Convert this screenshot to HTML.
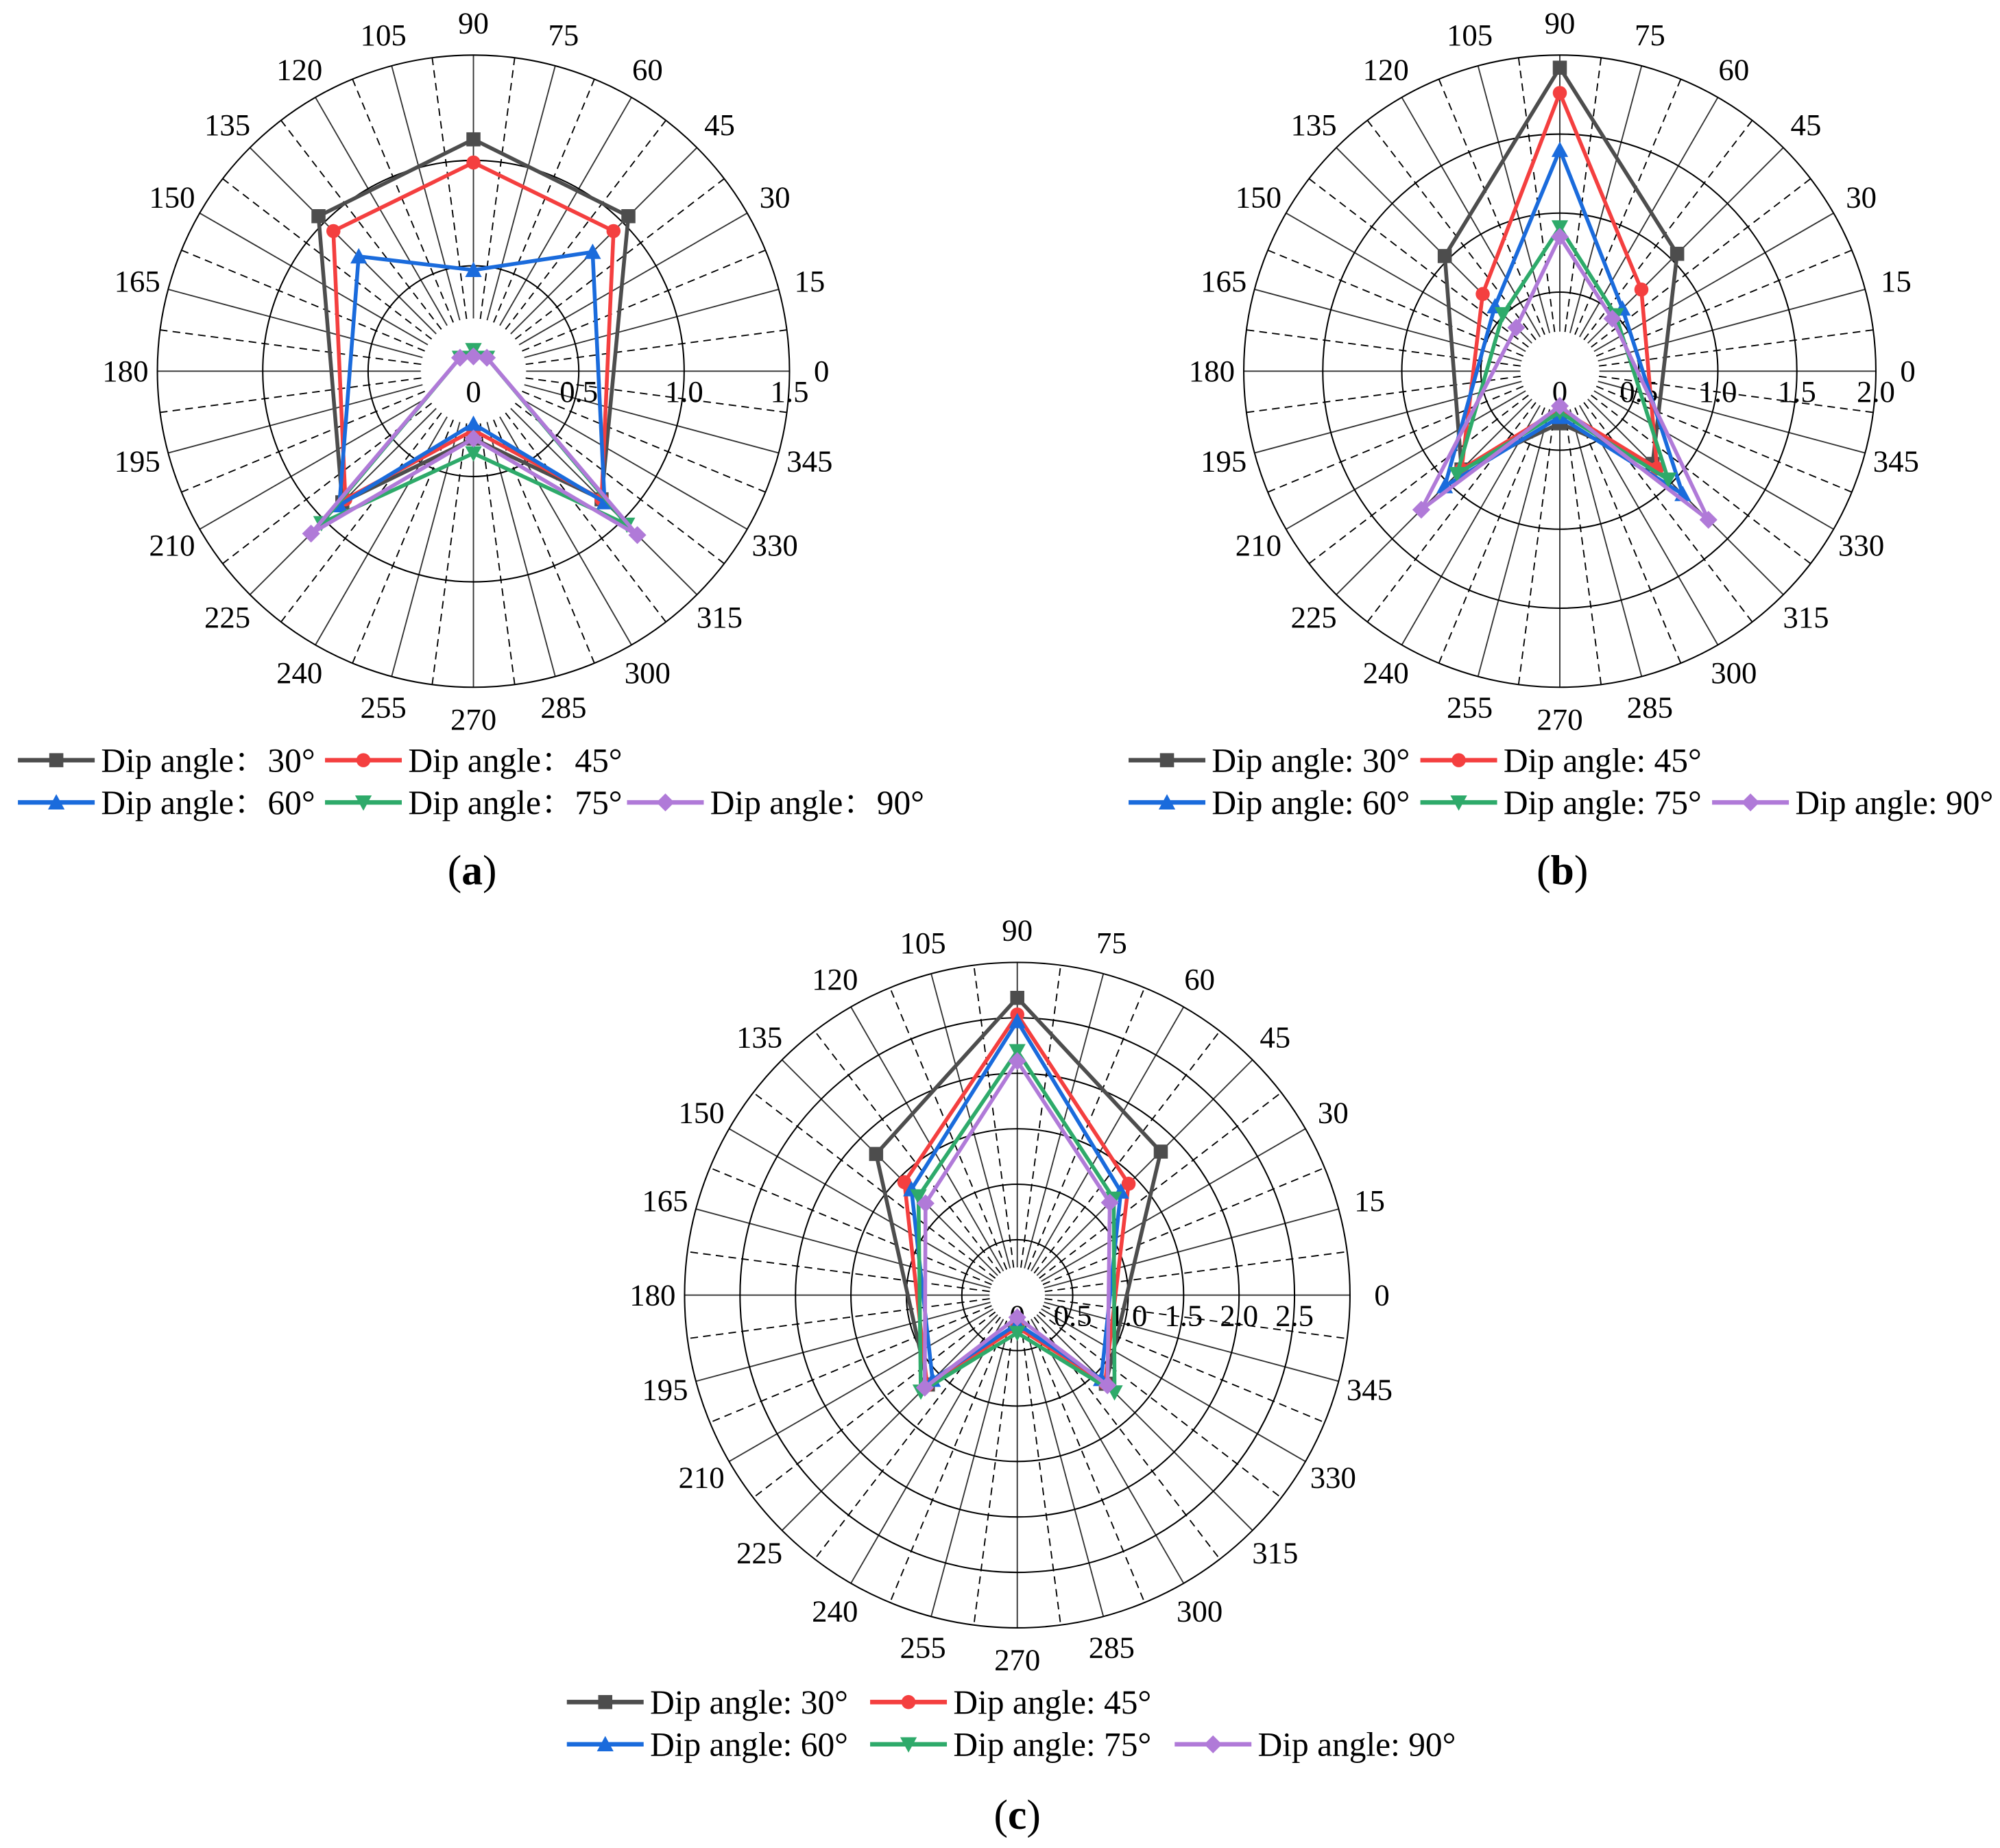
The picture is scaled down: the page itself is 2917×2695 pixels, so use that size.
<!DOCTYPE html>
<html><head><meta charset="utf-8"><style>
html,body{margin:0;padding:0;background:#fff}
svg{display:block}
text{font-family:"Liberation Serif","Noto Serif CJK SC",serif;fill:#000}
</style></head><body>
<svg id="fig" width="2917" height="2695" viewBox="0 0 1563 1444" xmlns="http://www.w3.org/2000/svg">
<rect width="1563" height="1444" fill="#fff"/>
<text x="369" y="691" font-size="33" text-anchor="middle">(<tspan font-weight="bold">a</tspan>)</text>
<text x="1221" y="691" font-size="33" text-anchor="middle">(<tspan font-weight="bold">b</tspan>)</text>
<text x="795" y="1429" font-size="33" text-anchor="middle">(<tspan font-weight="bold">c</tspan>)</text>
</svg>
<script>
const angles = [45, 90, 135, 225, 270, 315];
const seriesNames = ["Dip angle: 30°","Dip angle: 45°","Dip angle: 60°","Dip angle: 75°","Dip angle: 90°"];
const seriesNamesA = ["Dip angle：30°","Dip angle：45°","Dip angle：60°","Dip angle：75°","Dip angle：90°"];
// chart a values per series (angles order)
const a30 = [1.04, 1.10, 1.04, 0.88, 0.32, 0.86];
const a45 = [0.94, 0.99, 0.94, 0.86, 0.28, 0.86];
const a60 = [0.80, 0.48, 0.77, 0.90, 0.25, 0.88];
const a75 = [0.09, 0.10, 0.09, 1.02, 0.39, 1.03];
const a90 = [0.09, 0.07, 0.09, 1.09, 0.32, 1.10];
// chart b
const b30 = [1.05, 1.92, 1.03, 0.88, 0.33, 0.83];
const b45 = [0.73, 1.76, 0.69, 0.88, 0.24, 0.87];
const b60 = [0.56, 1.40, 0.58, 1.03, 0.29, 1.10];
const b75 = [0.50, 0.91, 0.51, 0.92, 0.26, 0.97];
const b90 = [0.47, 0.85, 0.39, 1.24, 0.22, 1.33];
// chart c
const c30 = [1.83, 2.68, 1.80, 1.14, 0.28, 1.13];
const c45 = [1.42, 2.53, 1.44, 1.15, 0.29, 1.12];
const c60 = [1.32, 2.47, 1.35, 1.08, 0.26, 1.07];
const c75 = [1.23, 2.20, 1.26, 1.23, 0.34, 1.24];
const c90 = [1.18, 2.11, 1.17, 1.18, 0.20, 1.15];
const ticksA = ["0","0.5","1.0","1.5"];
const ticksB = ["0","0.5","1.0","1.5","2.0"];
const ticksC = ["0","0.5","1.0","1.5","2.0","2.5"];

const colors = ["#4d4d4d","#f43f3f","#1a6bdc","#2eaa6a","#b07ad8"];
const markers = ["square","circle","up","down","diamond"];
const NS = "http://www.w3.org/2000/svg";
const svg = document.getElementById("fig");
function mk(tag, attrs, parent){const e=document.createElementNS(NS,tag);for(const k in attrs)e.setAttribute(k,attrs[k]);(parent||svg).appendChild(e);return e;}

function marker(g, x, y, type, color){
  const s = 5.5;
  let e;
  if(type==="square") e=mk("rect",{x:x-s,y:y-s,width:2*s,height:2*s,fill:color},g);
  else if(type==="circle") e=mk("circle",{cx:x,cy:y,r:s,fill:color},g);
  else if(type==="up") e=mk("polygon",{points:`${x},${y-s-1} ${x-s-1},${y+s} ${x+s+1},${y+s}`,fill:color},g);
  else if(type==="down") e=mk("polygon",{points:`${x},${y+s+1} ${x-s-1},${y-s} ${x+s+1},${y-s}`,fill:color},g);
  else e=mk("polygon",{points:`${x},${y-s-1.5} ${x+s+1.5},${y} ${x},${y+s+1.5} ${x-s-1.5},${y}`,fill:color},g);
  
  
}

function chart(id, cx, cy, R, maxV, ticks, data, names, legend){
  const g = mk("g",{});
  
  
  const rs = v => v / maxV * R;
  const px = (ang, v) => cx + rs(v)*Math.cos(ang*Math.PI/180);
  const py = (ang, v) => cy - rs(v)*Math.sin(ang*Math.PI/180);
  const hole = 0.25;
  for(let a=0;a<360;a+=7.5){
    const solid = (a%15===0);
    const l = mk("line",{x1:px(a,hole),y1:py(a,hole),x2:px(a,maxV),y2:py(a,maxV),stroke:solid?"#333":"#000","stroke-width":1,"stroke-dasharray":solid?"none":"6,4"},g);
    
    
  }
  for(let v=0.5; v<=maxV+1e-9; v+=0.5){
    const c = mk("circle",{cx:cx,cy:cy,r:rs(v),fill:"none",stroke:"#000","stroke-width":1.1},g);
    
    
  }
  ticks.forEach((t,i)=>{
    const e = mk("text",{x:cx+rs(i*0.5),y:cy+24,"font-size":24,"text-anchor":"middle"},g);
    e.textContent=t;
    
    
  });
  for(let a=0;a<360;a+=15){
    const rr = R+25;
    const e = mk("text",{x:cx+rr*Math.cos(a*Math.PI/180),y:cy-rr*Math.sin(a*Math.PI/180)+8,"font-size":24,"text-anchor":"middle"},g);
    e.textContent=String(a);
    
    
  }
  data.forEach((vals,si)=>{
    const sg = mk("g",{},g);
    
    
    const pts = angles.map((a,i)=>px(a,vals[i]).toFixed(1)+","+py(a,vals[i]).toFixed(1)).join(" ");
    const p = mk("polygon",{points:pts,fill:"none",stroke:colors[si],"stroke-width":3,"stroke-linejoin":"miter"},sg);
    
    
    angles.forEach((a,i)=>marker(sg,px(a,vals[i]),py(a,vals[i]),markers[si],colors[si]));
  });
  legend.forEach((L,si)=>{
    const lg = mk("g",{},g);
    
    
    const ln = mk("line",{x1:L[0],y1:L[1],x2:L[0]+60,y2:L[1],stroke:colors[si],"stroke-width":3.5},lg);
    
    
    marker(lg,L[0]+30,L[1],markers[si],colors[si]);
    const t = mk("text",{x:L[0]+65,y:L[1]+9,"font-size":26.5},lg);
    t.textContent = names[si];
    
    
  });
}
chart("a",370,290,247,1.5,ticksA,[a30,a45,a60,a75,a90],seriesNamesA,
  [[14,594],[254,594],[14,627],[254,627],[490,627]]);
chart("b",1219,290,247,2.0,ticksB,[b30,b45,b60,b75,b90],seriesNames,
  [[882,594],[1110,594],[882,627],[1110,627],[1338,627]]);
chart("c",795,1012,260,3.0,ticksC,[c30,c45,c60,c75,c90],seriesNames,
  [[443,1330],[680,1330],[443,1363],[680,1363],[918,1363]]);
</script>
</body></html>
